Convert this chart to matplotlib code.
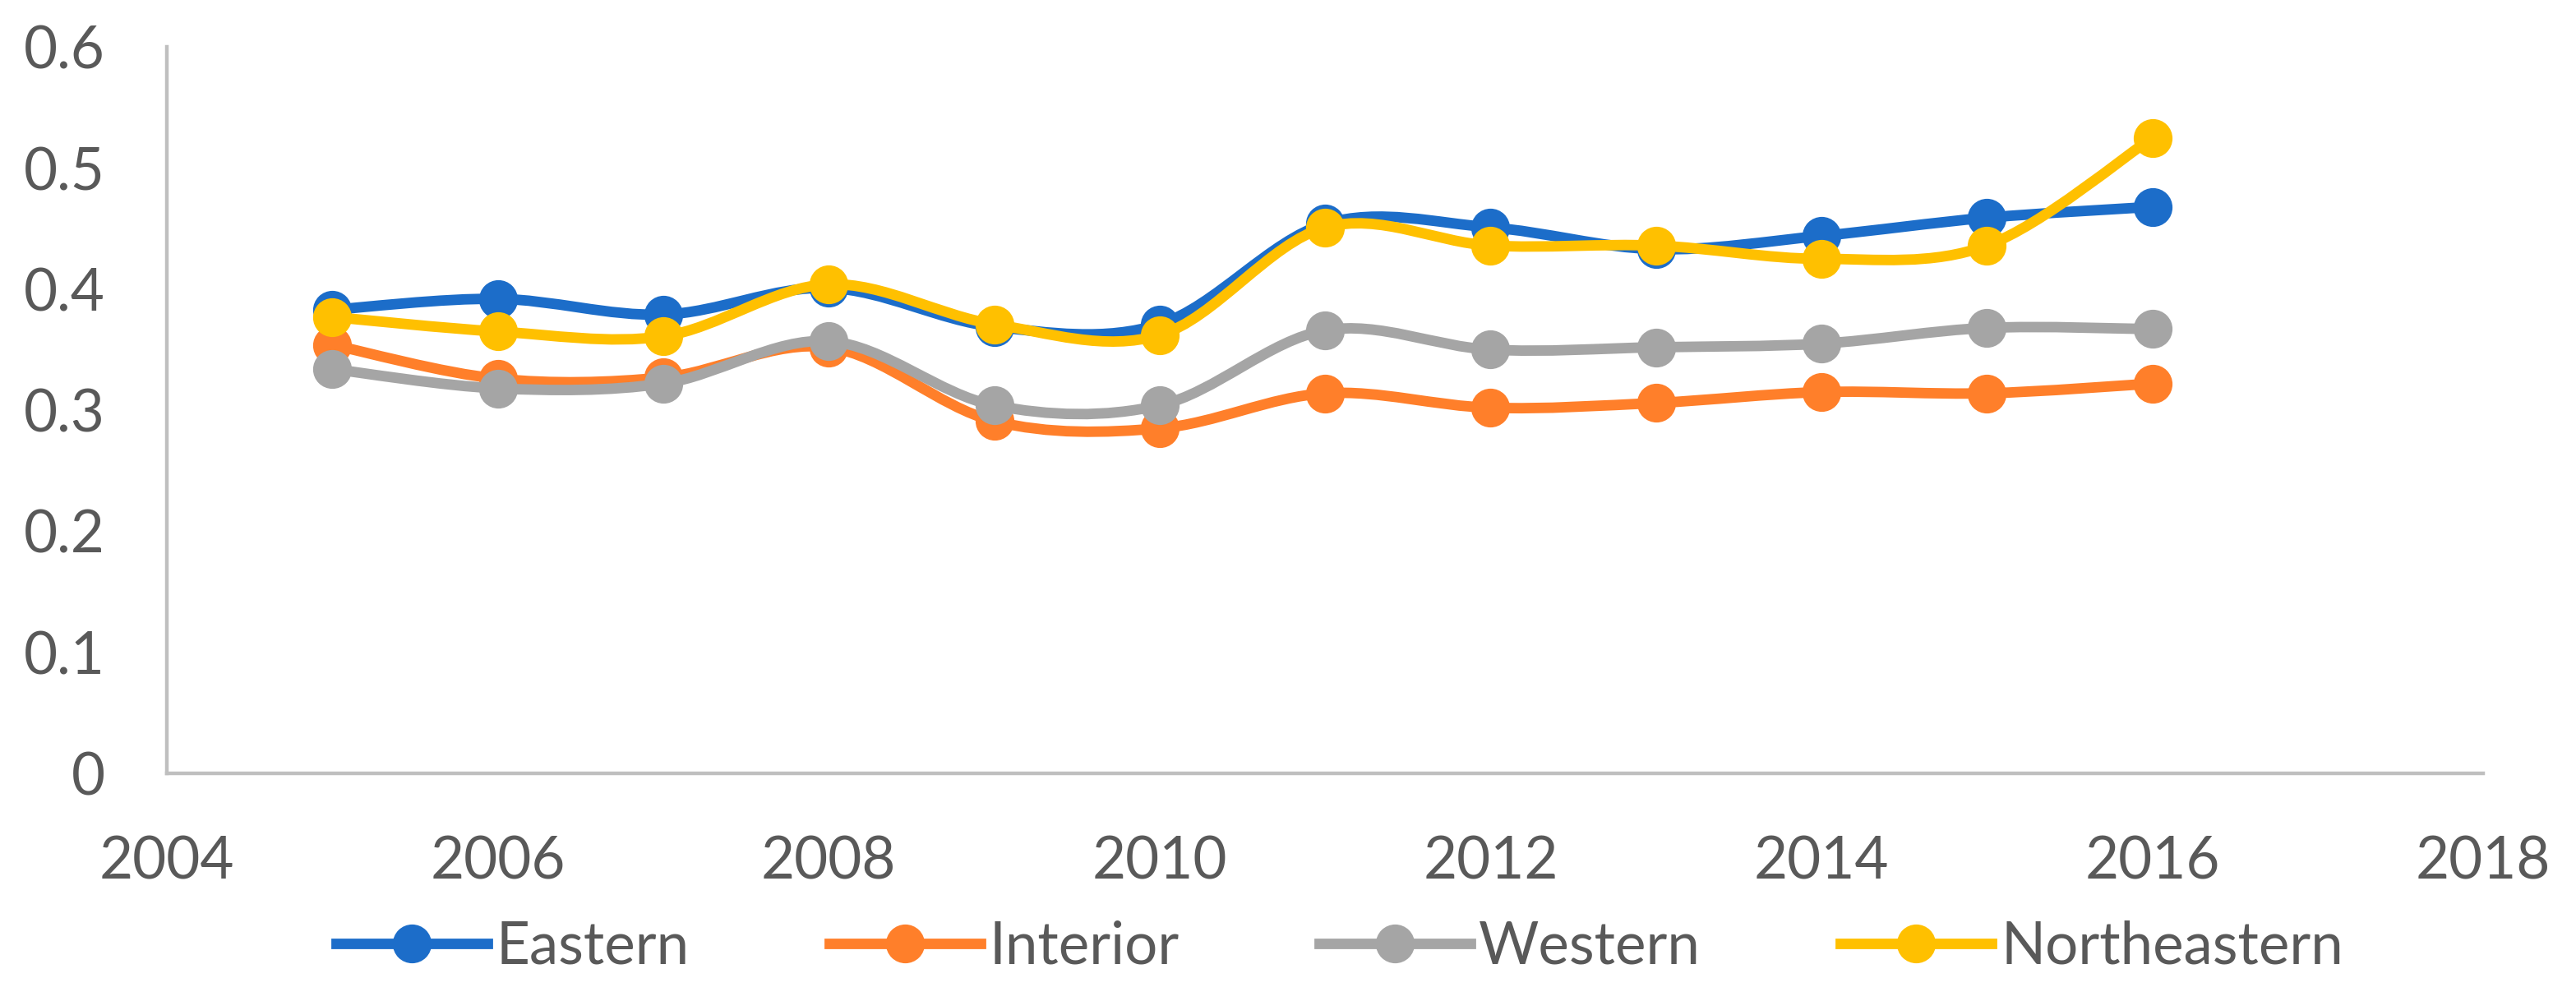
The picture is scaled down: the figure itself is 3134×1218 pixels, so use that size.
import matplotlib
matplotlib.use("Agg")
import matplotlib.pyplot as plt
import numpy as np
from matplotlib.path import Path
from matplotlib.patches import PathPatch
from matplotlib.lines import Line2D

# dati
anni = [2005, 2006, 2007, 2008, 2009, 2010, 2011, 2012, 2013, 2014, 2015, 2016]
eastern = [0.383, 0.392, 0.379, 0.401, 0.369, 0.371, 0.454, 0.451, 0.433, 0.444, 0.459, 0.468]
interior = [0.354, 0.326, 0.327, 0.352, 0.291, 0.285, 0.314, 0.302, 0.306, 0.315, 0.314, 0.322]
western = [0.334, 0.318, 0.322, 0.357, 0.304, 0.304, 0.366, 0.350, 0.352, 0.355, 0.368, 0.367]
northeastern = [0.377, 0.365, 0.361, 0.404, 0.371, 0.362, 0.451, 0.436, 0.436, 0.425, 0.436, 0.525]

serie = ["Eastern", "Interior", "Western", "Northeastern"]
colori = ["#1C6DC9", "#FF7F2A", "#A5A5A5", "#FFC000"]

x_ticks = [2004, 2006, 2008, 2010, 2012, 2014, 2016, 2018]
y_ticks = [0, 0.1, 0.2, 0.3, 0.4, 0.5, 0.6]

plt.rcParams['font.family'] = ['Lato', 'DejaVu Sans']


def curva_liscia(x, y):
    # linea "smussata" tipo Excel (Catmull-Rom come Bezier)
    x = np.asarray(x, float)
    y = np.asarray(y, float)
    n = len(x)
    verts = [(x[0], y[0])]
    codes = [Path.MOVETO]
    for i in range(n - 1):
        p0 = np.array([x[max(i - 1, 0)], y[max(i - 1, 0)]])
        p1 = np.array([x[i], y[i]])
        p2 = np.array([x[i + 1], y[i + 1]])
        p3 = np.array([x[min(i + 2, n - 1)], y[min(i + 2, n - 1)]])
        c1 = p1 + (p2 - p0) / 6
        c2 = p2 - (p3 - p1) / 6
        verts += [tuple(c1), tuple(c2), tuple(p2)]
        codes += [Path.CURVE4] * 3
    return Path(verts, codes)


fig = plt.figure(figsize=(15.67, 6.09), dpi=200)
ax = fig.add_axes([0.0648, 0.2274, 0.8992, 0.7256])

dati = [eastern, interior, western, northeastern]
for k, (nome, valori, col) in enumerate(zip(serie, dati, colori)):
    patch = PathPatch(curva_liscia(anni, valori), facecolor='none', edgecolor=col,
                      lw=4.6, capstyle='round', joinstyle='round', zorder=2 + k)
    ax.add_patch(patch)
    ax.plot(anni, valori, 'o', color=col, markersize=16, zorder=2 + k)

ax.set_xlim(2004, 2018)
ax.set_ylim(0, 0.6)
ax.set_xticks(x_ticks)
ax.set_yticks(y_ticks)
ax.set_yticklabels(["0", "0.1", "0.2", "0.3", "0.4", "0.5", "0.6"])

for s in ["top", "right"]:
    ax.spines[s].set_visible(False)
for s in ["left", "bottom"]:
    ax.spines[s].set_color("#BFBFBF")
    ax.spines[s].set_linewidth(1.6)

ax.tick_params(axis='both', length=0, labelsize=25.5, labelcolor="#595959")
ax.tick_params(axis='y', pad=27)
ax.tick_params(axis='x', pad=27)

handles = [Line2D([0], [0], color=c, lw=4.6, marker='o', markersize=16) for c in colori]
fig.legend(handles, serie, loc='center', bbox_to_anchor=(0.52, 0.054), ncol=4,
           frameon=False, fontsize=25.5, handlelength=2.6, handletextpad=0.15,
           columnspacing=2.4, labelcolor="#595959", numpoints=1)

fig.savefig("out.png", dpi=200)
